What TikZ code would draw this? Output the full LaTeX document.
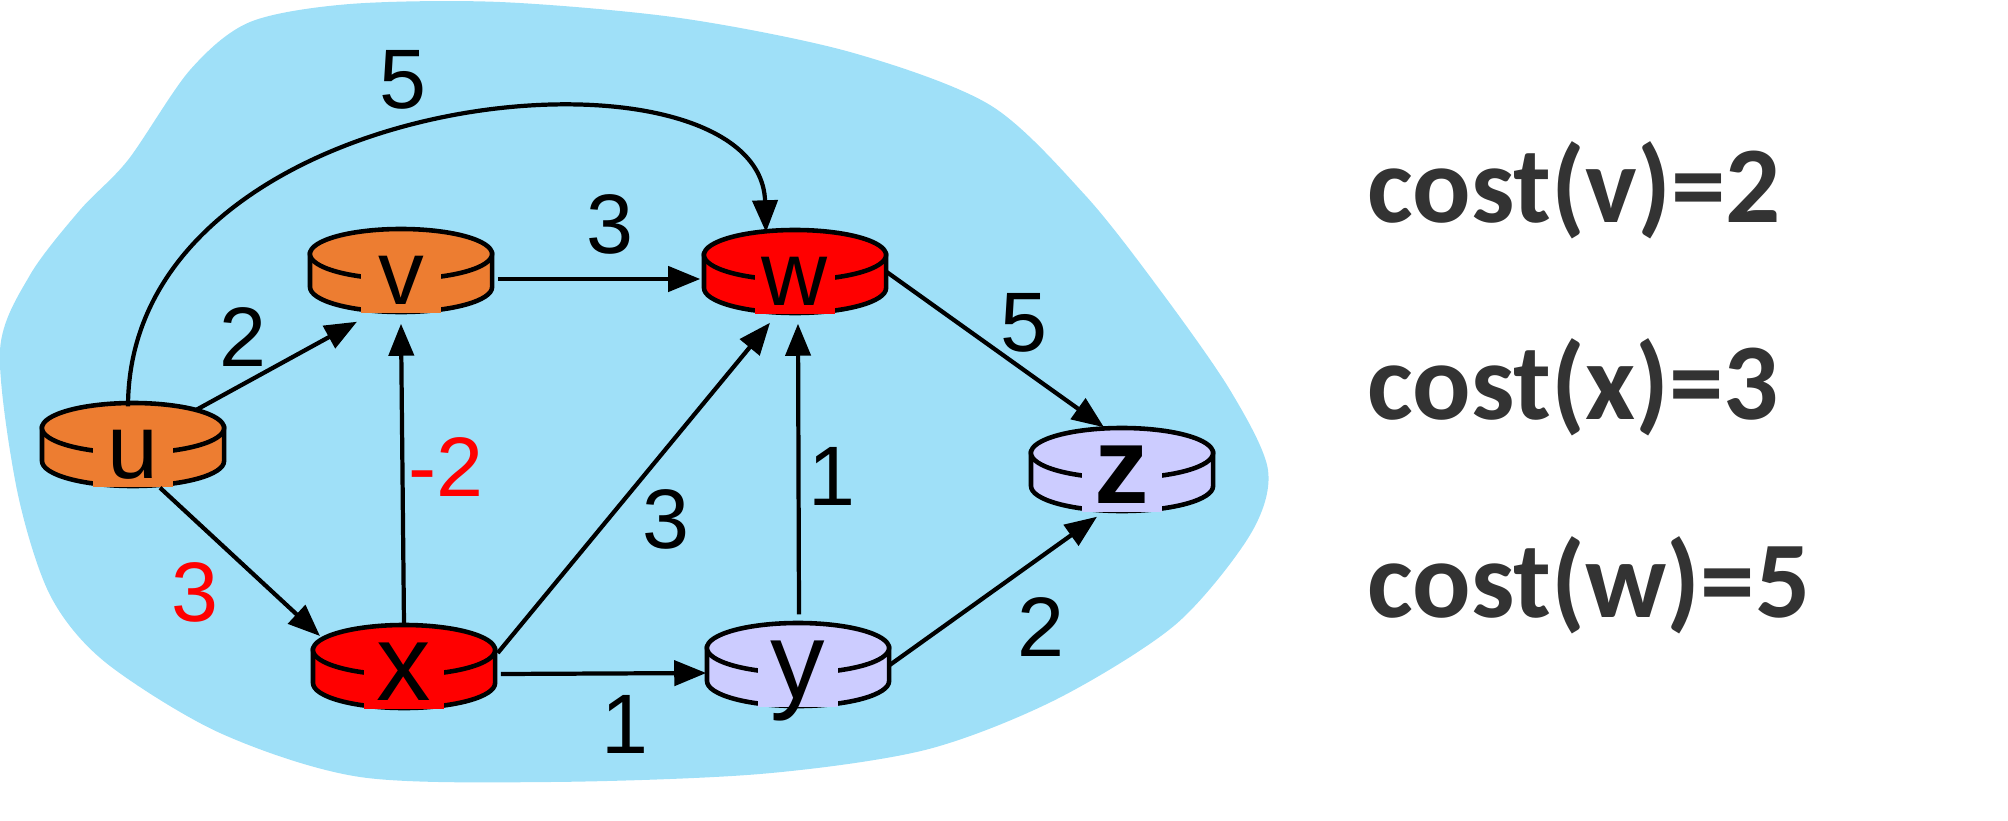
\documentclass[tikz,border=0pt]{standalone}
\usepackage{fontspec}
\setmainfont{Liberation Sans}
\newfontfamily\costfont{Carlito}
\usetikzlibrary{arrows.meta,calc}

\definecolor{cloud}{RGB}{159,224,248}
\definecolor{rorange}{RGB}{237,125,49}
\definecolor{rred}{RGB}{255,0,0}
\definecolor{rlilac}{RGB}{204,204,255}
\definecolor{costgray}{RGB}{51,51,51}

\tikzstyle{rbox} = [minimum width=1.82cm, minimum height=0.84cm, inner sep=0pt]
\tikzstyle{rline} = [line width=1.3pt]
\tikzstyle{rlbl} = [inner sep=0pt, minimum width=0.8cm, text height=0.38cm, text depth=0.09cm, anchor=base, font=\fontsize{26}{26}\selectfont]
\tikzstyle{link} = [line width=1.2pt, -{Triangle[length=0.32cm,width=0.25cm]}]
\tikzstyle{wt} = [font=\fontsize{24}{24}\selectfont]
\tikzstyle{cost} = [anchor=base west, inner sep=0pt, text=costgray, font=\costfont\bfseries\fontsize{31}{31}\selectfont]

% router: name, position, colour, letter
\newcommand{\router}[4]{%
  \node[rbox] (#1) at (#2) {};
  \draw[rline, fill=#3] ($(#1)+(-91,17)$) -- ++(0,-33) arc[start angle=180, end angle=360, x radius=0.91cm, y radius=0.25cm] -- ++(0,33) -- cycle;
  \draw[rline, fill=#3] ($(#1)+(0,17)$) ellipse [x radius=0.91cm, y radius=0.25cm];
  \node[rlbl, fill=#3] (#1-l) at ($(#1)+(0,-33)$) {#4};
}

\begin{document}
\begin{tikzpicture}[x=0.01cm, y=0.01cm]
\useasboundingbox (0,0) rectangle (2008,820);
%cloud
\fill[cloud] plot[smooth cycle] coordinates {(0,470) (30,545) (80,610) (128,660) (190,750) (250,798) (350,816) (500,818) (680,802) (850,768) (990,715) (1085,625) (1160,530) (1230,430) (1268,350) (1250,285) (1175,195) (1055,120) (925,70) (760,46) (550,38) (360,43) (220,87) (105,158) (50,225) (17,330)};
%routers
\router{u}{133,375}{rorange}{u}
\router{v}{401,549}{rorange}{v}
\router{w}{795,548}{rred}{w}
\router{x}{404,153}{rred}{\fontsize{31}{31}\selectfont x}
\router{y}{798,155}{rlilac}{\fontsize{31}{31}\selectfont y}
\router{z}{1122,350}{rlilac}{\fontsize{31}{31}\selectfont\bfseries z}
%links
\draw[link] ($(u)+(63,35)$) -- ($(v.south)+(-44,-8)$);
\draw[link] ($(u.south)+(27,0)$) -- ($(x)+(-84,31)$);
\draw[link] ($(u.north)+(-5,-4)$) .. controls +(1,327) and +(-6,203) .. ($(w.north)+(-29,-3)$);
\draw[link] ($(v.east)+(5,-8)$) -- ($(w.west)+(-3,-7)$);
\draw[link] (x.north) -- ($(v.south)+(0,-10)$);
\draw[link] ($(x.east)+(2,14)$) -- ($(w.south)+(-25,-8)$);
\draw[link] ($(x.east)+(5,-7)$) -- ($(y.west)+(0,-8)$);
\draw[link] ($(y.north)+(1,8)$) -- ($(w.south)+(3,-9)$);
\draw[link] (y.east) -- ($(z.south)+(-25,-4)$);
\draw[link] (w.east) -- ($(z.north)+(-18,0)$);
%weights
\node[wt] (c-uw) at (403,740) {5};
\node[wt] (c-vw) at (610,596) {3};
\node[wt] (c-uv) at (243,483) {2};
\node[wt] (c-wz) at (1024,497) {5};
\node[wt, text=rred] (c-xv) at (446,353) {-2};
\node[wt, text=rred] (c-ux) at (195,228) {3};
\node[wt] (c-xw) at (666,301) {3};
\node[wt] (c-yw) at (832,344) {1};
\node[wt] (c-xy) at (625,96) {1};
\node[wt] (c-yz) at (1041,193) {2};
%costs
\node[cost] (cv) at (1367,598) {cost(v)=2};
\node[cost] (cx) at (1367,401) {cost(x)=3};
\node[cost] (cw) at (1367,203) {cost(w)=5};
\end{tikzpicture}
\end{document}
